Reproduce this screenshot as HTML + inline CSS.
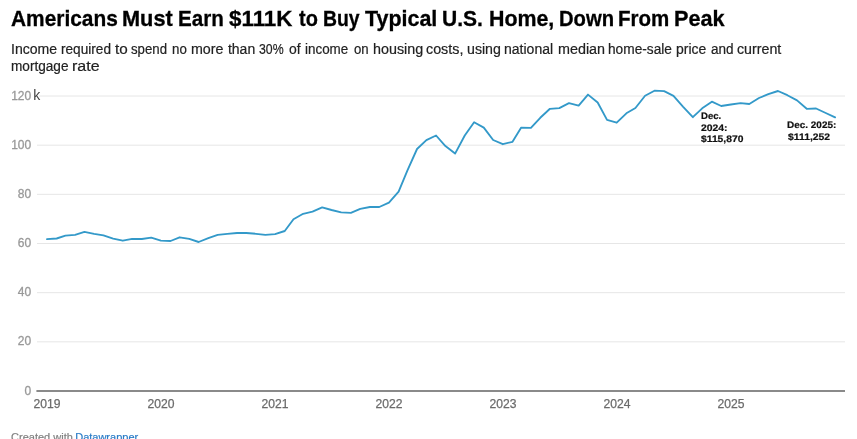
<!DOCTYPE html>
<html><head><meta charset="utf-8"><title>Americans Must Earn $111K to Buy Typical U.S. Home</title>
<style>
html,body{margin:0;padding:0;background:#fff;}
body{width:857px;height:439px;overflow:hidden;position:relative;font-family:"Liberation Sans",sans-serif;}
h1{position:absolute;margin:0;left:0;top:6px;width:857px;height:26px;font-size:22px;line-height:26px;font-weight:700;color:#000;white-space:nowrap;-webkit-text-stroke:0.3px #000;}
h1 span{position:absolute;top:0;display:block;transform-origin:0 50%;}
.sub{position:absolute;left:0;top:41px;width:857px;height:34px;font-size:14px;line-height:17px;color:#222;white-space:nowrap;-webkit-text-stroke:0.2px #222;}
.sub span{position:absolute;display:block;transform-origin:0 50%;}
.yl{position:absolute;left:0;width:31.2px;text-align:right;font-size:12px;line-height:14px;color:#999;height:14px;-webkit-text-stroke:0.3px #999;}
.yk{position:absolute;left:33.2px;font-size:14px;line-height:16px;color:#444;}
.xl{position:absolute;top:396.7px;width:60px;text-align:center;font-size:12px;line-height:14px;color:#6b6b6b;-webkit-text-stroke:0.25px #6b6b6b;transform:scaleX(1.01);}
.an{position:absolute;display:block;font-size:9.4px;line-height:12px;font-weight:700;color:#111;text-rendering:geometricPrecision;-webkit-text-stroke:0.2px #111;white-space:nowrap;transform-origin:0 50%;}
.ft{position:absolute;top:430px;font-size:11px;line-height:14px;color:#808080;-webkit-text-stroke:0.2px #808080;white-space:nowrap;}
a.ft{color:#2a7cc7;-webkit-text-stroke:0.2px #2a7cc7;text-decoration:none;}
svg{position:absolute;left:0;top:0;}
</style></head><body>
<h1><span style="left:10.73px;top:0px;transform:scaleX(0.9495)">Americans</span> <span style="left:121.92px;top:0px;transform:scaleX(0.9879)">Must</span> <span style="left:177.79px;top:0px;transform:scaleX(0.9370)">Earn</span> <span style="left:228.85px;top:0px;transform:scaleX(1.0170)">$111K</span> <span style="left:298.57px;top:0px;transform:scaleX(0.9063)">to</span> <span style="left:322.88px;top:0px;transform:scaleX(0.8805)">Buy</span> <span style="left:364.66px;top:0px;transform:scaleX(0.9744)">Typical</span> <span style="left:441.61px;top:0px;transform:scaleX(0.9550)">U.S.</span> <span style="left:489.04px;top:0px;transform:scaleX(0.9712)">Home,</span> <span style="left:558.52px;top:0px;transform:scaleX(0.9193)">Down</span> <span style="left:618.40px;top:0px;transform:scaleX(0.9321)">From</span> <span style="left:674.02px;top:0px;transform:scaleX(0.9849)">Peak</span> </h1>
<div class="sub"><span style="left:10.74px;top:0px;transform:scaleX(1.0045)">Income</span> <span style="left:60.73px;top:0px;transform:scaleX(0.9737)">required</span> <span style="left:114.63px;top:0px;transform:scaleX(1.0884)">to</span> <span style="left:131.33px;top:0px;transform:scaleX(0.9442)">spend</span> <span style="left:171.85px;top:0px;transform:scaleX(0.9500)">no</span> <span style="left:191.38px;top:0px;transform:scaleX(1.0182)">more</span> <span style="left:227.95px;top:0px;transform:scaleX(1.0000)">than</span> <span style="left:259.46px;top:0px;transform:scaleX(0.8778)">30%</span> <span style="left:288.60px;top:0px;transform:scaleX(0.9956)">of</span> <span style="left:304.64px;top:0px;transform:scaleX(0.9586)">income</span> <span style="left:353.53px;top:0px;transform:scaleX(0.9404)">on</span> <span style="left:372.58px;top:0px;transform:scaleX(1.0234)">housing</span> <span style="left:426.39px;top:0px;transform:scaleX(1.0216)">costs,</span> <span style="left:466.89px;top:0px;transform:scaleX(1.0127)">using</span> <span style="left:504.30px;top:0px;transform:scaleX(1.0021)">national</span> <span style="left:557.58px;top:0px;transform:scaleX(1.0250)">median</span> <span style="left:608.22px;top:0px;transform:scaleX(0.9788)">home-sale</span> <span style="left:675.80px;top:0px;transform:scaleX(0.9983)">price</span> <span style="left:710.52px;top:0px;transform:scaleX(0.9682)">and</span> <span style="left:736.79px;top:0px;transform:scaleX(1.0163)">current</span> <span style="left:11.03px;top:17px;transform:scaleX(0.9722)">mortgage</span> <span style="left:71.76px;top:17px;transform:scaleX(1.1422)">rate</span> </div>
<svg width="857" height="439" viewBox="0 0 857 439">
<line x1="37" x2="845" y1="341.83" y2="341.83" stroke="#e6e6e6" stroke-width="1"/>
<line x1="37" x2="845" y1="292.67" y2="292.67" stroke="#e6e6e6" stroke-width="1"/>
<line x1="37" x2="845" y1="243.50" y2="243.50" stroke="#e6e6e6" stroke-width="1"/>
<line x1="37" x2="845" y1="194.33" y2="194.33" stroke="#e6e6e6" stroke-width="1"/>
<line x1="37" x2="845" y1="145.17" y2="145.17" stroke="#e6e6e6" stroke-width="1"/>
<line x1="38.8" x2="845" y1="96.00" y2="96.00" stroke="#e6e6e6" stroke-width="1"/>
<line x1="36.4" x2="845" y1="391" y2="391" stroke="#8a8a8a" stroke-width="2"/>
<polyline fill="none" stroke="#3399c9" stroke-width="1.85" stroke-linejoin="round" stroke-linecap="round" points="47.00,239.1 56.67,238.5 65.41,235.7 75.08,234.8 84.44,231.9 94.11,233.8 103.47,235.4 113.14,238.6 122.81,240.7 132.17,238.9 141.85,239.0 151.21,237.7 160.88,240.6 170.55,241.0 179.60,237.3 189.27,238.9 198.63,242.0 208.30,238.2 217.66,234.9 227.33,233.8 237.01,233.0 246.36,233.0 256.04,233.8 265.40,234.9 275.07,234.2 284.74,231.0 293.48,219.3 303.15,213.8 312.51,211.7 322.18,207.4 331.54,210.0 341.21,212.3 350.88,212.8 360.24,208.9 369.92,207.0 379.27,207.0 388.95,202.6 398.62,191.7 407.35,170.7 417.03,149.0 426.39,140.1 436.06,135.5 445.42,146.1 455.09,153.6 464.76,135.5 474.12,122.2 483.79,127.6 493.15,140.0 502.83,144.2 512.50,141.8 521.23,127.6 530.90,127.8 540.26,117.8 549.94,108.8 559.30,108.1 568.97,103.2 578.64,105.6 588.00,94.6 597.67,102.5 607.03,119.9 616.70,122.7 626.38,113.3 635.42,108.0 645.09,95.8 654.45,90.7 664.13,91.1 673.49,95.8 683.16,106.8 692.83,117.2 702.19,108.3 711.86,101.7 721.22,106.0 730.89,104.5 740.57,103.2 749.30,104.0 758.97,98.0 768.33,94.1 778.00,91.0 787.36,95.2 797.04,100.4 806.71,108.8 816.07,108.5 825.74,113.0 835.10,117.4"/>
</svg>
<div class="yl" style="top:383.64px">0</div>
<div class="yl" style="top:334.47px">20</div>
<div class="yl" style="top:285.31px">40</div>
<div class="yl" style="top:236.14px">60</div>
<div class="yl" style="top:186.97px">80</div>
<div class="yl" style="top:137.81px">100</div>
<div class="yl" style="top:88.64px">120</div>
<div class="yk" style="top:87.00px">k</div>
<div class="xl" style="left:17.1px">2019</div>
<div class="xl" style="left:131.1px">2020</div>
<div class="xl" style="left:245.1px">2021</div>
<div class="xl" style="left:359.1px">2022</div>
<div class="xl" style="left:473.1px">2023</div>
<div class="xl" style="left:587.1px">2024</div>
<div class="xl" style="left:701.1px">2025</div>

<span class="an" style="left:700.87px;top:109px;transform:translateY(0.90px) scaleX(1.0216)">Dec.</span>
<span class="an" style="left:701.08px;top:121px;transform:translateY(0.70px) scaleX(1.1082)">2024:</span>
<span class="an" style="left:701.37px;top:133px;transform:translateY(0.40px) scaleX(1.0989)">$115,870</span>
<span class="an" style="left:787.04px;top:118px;transform:translateY(0.70px) scaleX(1.0628)">Dec. 2025:</span>
<span class="an" style="left:787.57px;top:130px;transform:translateY(0.50px) scaleX(1.1055)">$111,252</span>
<span class="ft" style="left:11.1px">Created with</span> <a class="ft" style="left:75.2px">Datawrapper</a>
</body></html>
